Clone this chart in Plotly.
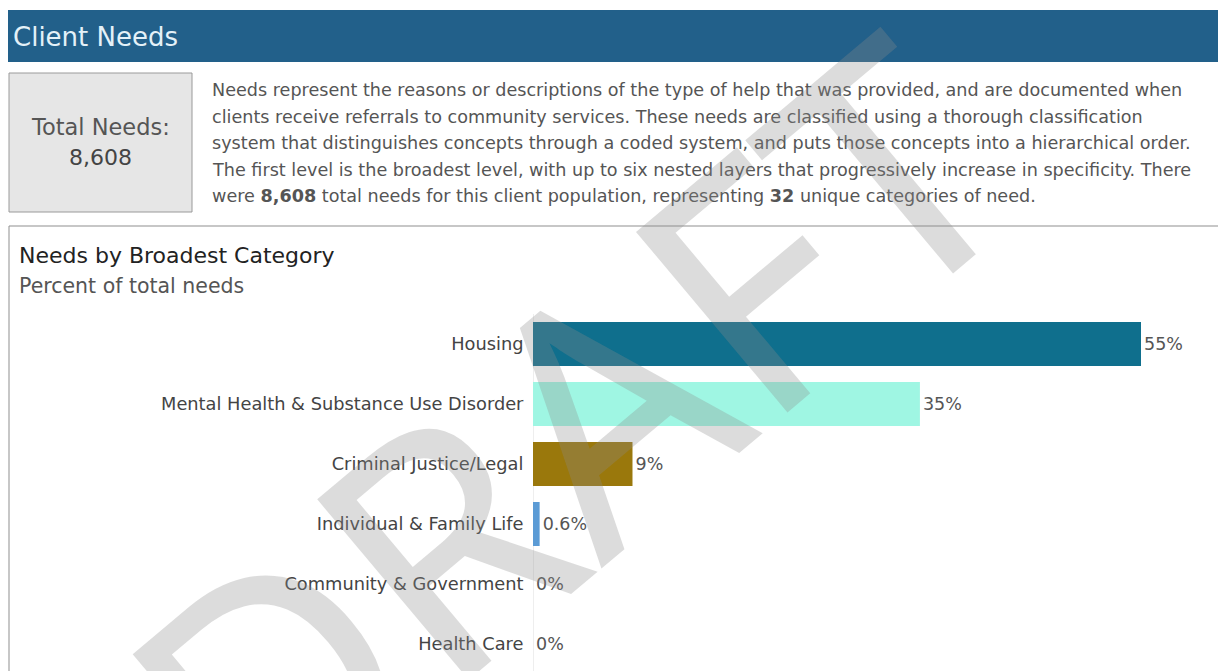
import plotly.graph_objects as go

# The page body has an 8px margin, so the figure is offset by (8, 8) on screen.
OFF = 8
W, H = 1226 - OFF, 671 - OFF

categories = ["Housing", "Mental Health & Substance Use Disorder", "Criminal Justice/Legal",
              "Individual & Family Life", "Community & Government", "Health Care"]
percent_values = [55, 35, 9, 0.6, 0, 0]
value_labels = ["55%", "35%", "9%", "0.6%", "0%", "0%"]
bar_colors = ["#0f6f8d", "#9ff6e3", "#9a780c", "#5b9bd5", "#d0d0d0", "#d0d0d0"]

total_needs = "8,608"
unique_categories = "32"
paragraph_lines = [
    "Needs represent the reasons or descriptions of the type of help that was provided, and are documented when",
    "clients receive referrals to community services. These needs are classified using a thorough classification",
    "system that distinguishes concepts through a coded system, and puts those concepts into a hierarchical order.",
    "The first level is the broadest level, with up to six nested layers that progressively increase in specificity. There",
    f"were <b>{total_needs}</b> total needs for this client population, representing <b>{unique_categories}</b> unique categories of need.",
]

FONT = "DejaVu Sans"

def px(x):
    return (x - OFF) / W

def py(y):
    return 1 - (y - OFF) / H

fig = go.Figure()
fig.add_trace(go.Bar(
    y=categories, x=percent_values, orientation="h",
    marker=dict(color=bar_colors, line=dict(width=0)),
    text=value_labels, textposition="outside", cliponaxis=False,
    textfont=dict(family=FONT, size=17.5, color="#555555"),
    hoverinfo="skip",
))

x0_px, xr_px = 533, 1220
px_per_unit = (1141 - 533) / 55.0
y_top_px = 314

shapes = [
    dict(type="rect", xref="paper", yref="paper", x0=px(8), x1=px(1222), y0=py(62), y1=py(10),
         fillcolor="#22608a", line=dict(width=0), layer="below"),
    dict(type="rect", xref="paper", yref="paper", x0=px(9), x1=px(192), y0=py(212), y1=py(73),
         fillcolor="#e6e6e6", line=dict(width=1, color="#9a9a9a"), layer="below"),
    dict(type="rect", xref="paper", yref="paper", x0=px(9), x1=px(1224), y0=py(690), y1=py(226),
         fillcolor="rgba(0,0,0,0)", line=dict(width=1, color="#8f8f8f"), layer="below"),
]

annotations = [
    dict(text="Client Needs", x=px(11), y=py(37), xref="paper", yref="paper", xanchor="left",
         yanchor="middle", showarrow=False, font=dict(family=FONT, size=26, color="#e4f1f8")),
    dict(text="Total Needs:", x=px(100), y=py(127), xref="paper", yref="paper", xanchor="center",
         yanchor="middle", showarrow=False, font=dict(family=FONT, size=22.5, color="#555555")),
    dict(text=total_needs, x=px(100), y=py(158), xref="paper", yref="paper", xanchor="center",
         yanchor="middle", showarrow=False, font=dict(family=FONT, size=22, color="#444444")),
    dict(text="Needs by Broadest Category", x=px(17), y=py(255), xref="paper", yref="paper",
         xanchor="left", yanchor="middle", showarrow=False, font=dict(family=FONT, size=22, color="#222222")),
    dict(text="Percent of total needs", x=px(17), y=py(286), xref="paper", yref="paper",
         xanchor="left", yanchor="middle", showarrow=False, font=dict(family=FONT, size=20.5, color="#555555")),
]
line_ys = [90, 117, 143, 170, 196]
for t, ly in zip(paragraph_lines, line_ys):
    annotations.append(dict(text=t, x=px(210), y=py(ly), xref="paper", yref="paper", xanchor="left",
                            yanchor="middle", showarrow=False,
                            font=dict(family=FONT, size=17.6, color="#555555")))

# DRAFT watermark
annotations.append(dict(text="DRAFT", x=px(565), y=py(432), xref="paper", yref="paper",
                        xanchor="center", yanchor="middle", showarrow=False, textangle=-40,
                        font=dict(family="Noto Sans", size=330, color="rgba(140,140,140,0.3)")))

fig.update_layout(
    width=W, height=H,
    margin=dict(l=0, r=0, t=0, b=0),
    paper_bgcolor="white", plot_bgcolor="rgba(0,0,0,0)",
    showlegend=False,
    bargap=1 - 44 / 60,
    shapes=shapes,
    annotations=annotations,
    xaxis=dict(domain=[px(x0_px), px(xr_px)], range=[0, (xr_px - x0_px) / px_per_unit],
               showgrid=False, zeroline=True, zerolinecolor="#eeeeee", zerolinewidth=1,
               showticklabels=False, ticks="", fixedrange=True),
    yaxis=dict(domain=[0, py(y_top_px)], range=[-0.5 + (671 - y_top_px) / 60.0, -0.5],
               showgrid=False, ticks="outside", ticklen=5, tickcolor="rgba(0,0,0,0)",
               tickfont=dict(family=FONT, size=17.8, color="#444444"), fixedrange=True),
)

fig.write_html("out.html")
